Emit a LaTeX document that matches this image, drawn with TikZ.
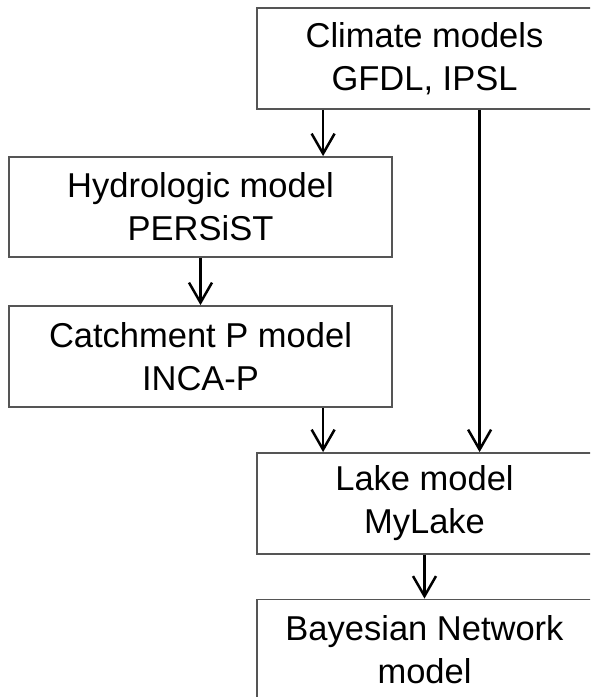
\documentclass[tikz,border=0pt]{standalone}
\usepackage{fontspec}
\setmainfont{Liberation Sans}
\usetikzlibrary{arrows.meta,calc}
\definecolor{boxgray}{RGB}{85,85,85}
\begin{document}
\begin{tikzpicture}[x=1pt,y=-1pt,
  mbox/.style={draw=boxgray, line width=1.8pt, fill=white, align=center, inner sep=0pt,
    font=\fontsize{34.5}{43}\selectfont},
  arr/.style={line width=2.5pt, black, -{Straight Barb[length=20pt,width=23pt,line width=2.5pt]}}]
\useasboundingbox (0,0) rectangle (590,697);
\clip (0,0) rectangle (590,697);
\fill[white] (0,0) rectangle (590,697);
\node[mbox, minimum width=335pt, minimum height=101pt] (clim) at (424.5,58.5) {Climate models\\GFDL, IPSL};
\node[mbox, minimum width=383pt, minimum height=100pt] (hydro) at (200.5,207) {Hydrologic model\\PERSiST};
\node[mbox, minimum width=383pt, minimum height=101pt] (cat) at (200.5,356.5) {Catchment P model\\INCA-P};
\node[mbox, minimum width=335pt, minimum height=101pt] (lake) at (424.5,503.5) {Lake model\\MyLake};
\node[mbox, minimum width=335pt, minimum height=101pt] (bayes) at (424.5,650) {Bayesian Network\\model};
\draw[arr] ([xshift=67pt]clim.south west) -- ([xshift=67pt]clim.south west |- hydro.north);
\draw[arr] ([xshift=223.5pt]clim.south west) -- ([xshift=223.5pt]clim.south west |- lake.north);
\draw[arr] (hydro.south) -- (cat.north);
\draw[arr] ([xshift=67pt]lake.north west |- cat.south) -- ([xshift=67pt]lake.north west);
\draw[arr] (lake.south) -- (bayes.north);
\end{tikzpicture}
\end{document}
